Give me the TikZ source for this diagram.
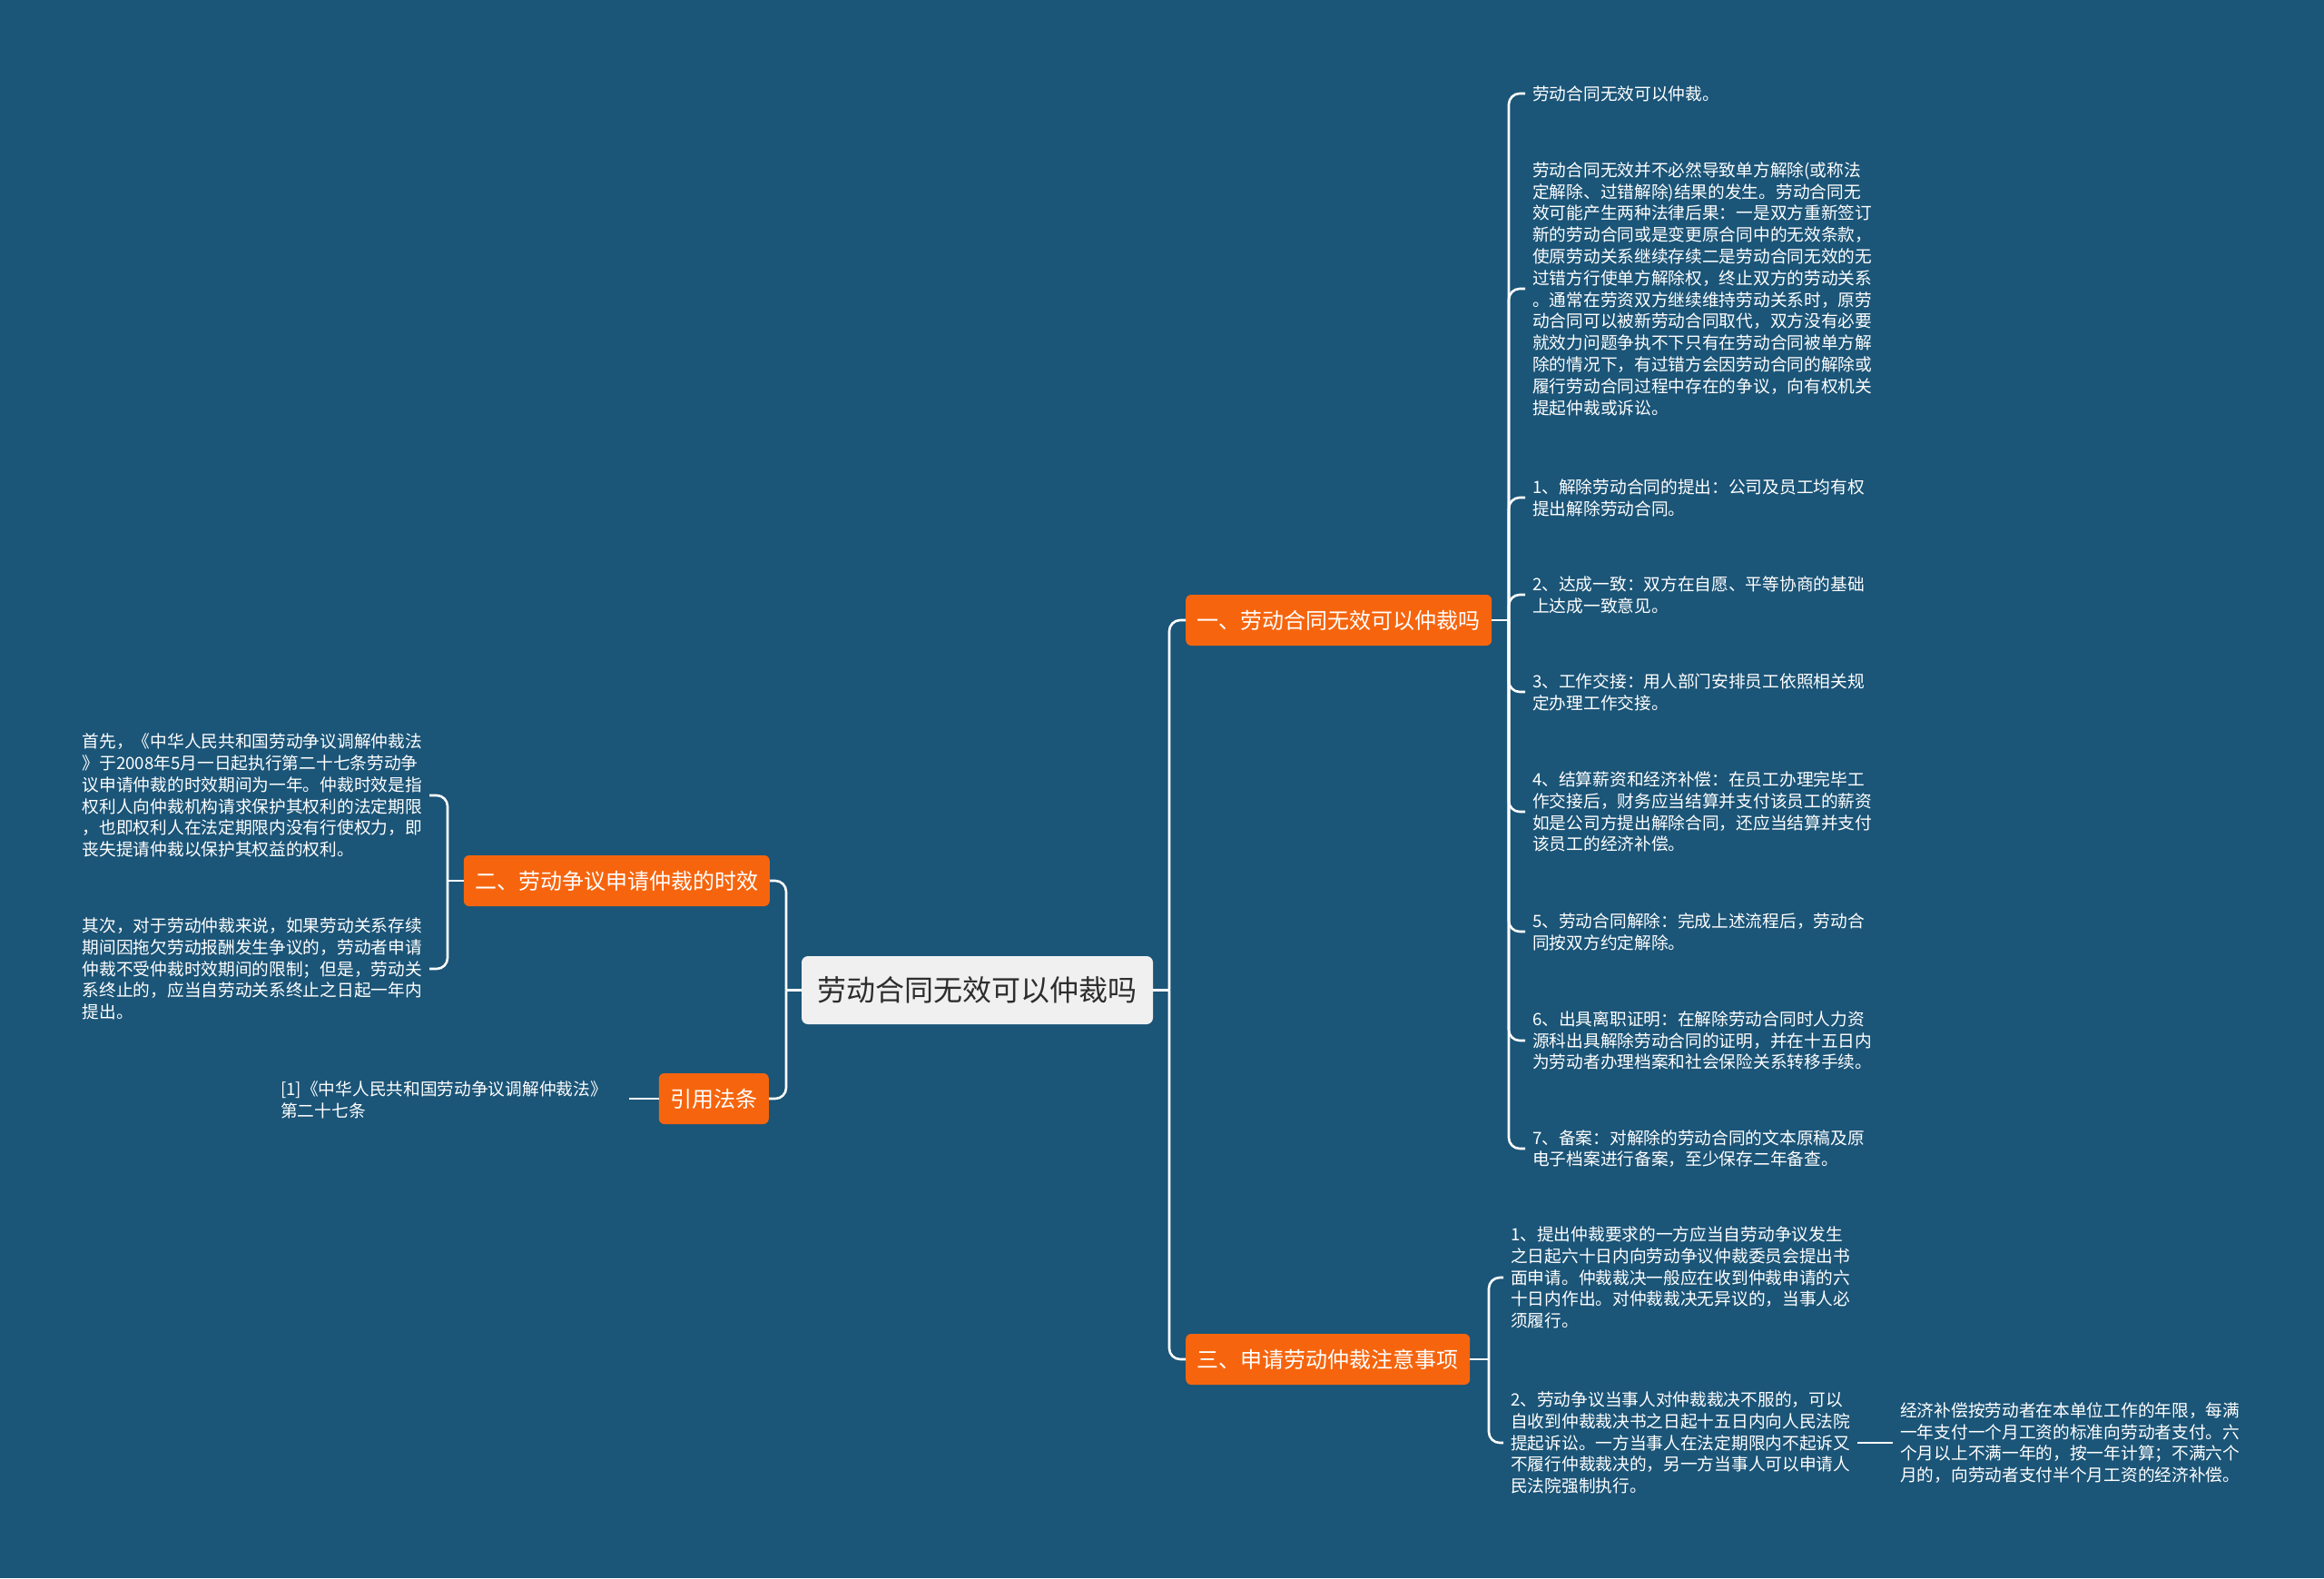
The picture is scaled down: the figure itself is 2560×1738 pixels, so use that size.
\documentclass[tikz,border=0pt]{standalone}
\usepackage{fontspec}
\setmainfont{Noto Sans CJK SC}
\definecolor{bgblue}{RGB}{27,85,120}
\definecolor{orangebox}{RGB}{246,101,14}
\definecolor{rootgray}{RGB}{240,240,240}
\definecolor{roottext}{RGB}{45,45,45}
\begin{document}
\begin{tikzpicture}[x=1pt,y=-1pt,
  edge/.style={draw=white,line width=2.6pt},
  redge/.style={edge,rounded corners=12pt},
  rootbox/.style={fill=rootgray,text=roottext,rounded corners=7pt,minimum width=387pt,minimum height=75pt,inner sep=0pt,font=\fontsize{32}{36}\selectfont},
  branchbox/.style={fill=orangebox,text=white,rounded corners=6pt,minimum height=56pt,inner xsep=12.5pt,inner ysep=0pt,font=\fontsize{24}{28}\selectfont},
  leafr/.style={text=white,align=left,inner xsep=8pt,inner ysep=2pt,anchor=west,font=\fontsize{18.7}{23.8}\selectfont},
  leafl/.style={leafr,anchor=east}]
\useasboundingbox (0,0) rectangle (2560,1738);
\fill[bgblue] (0,0) rectangle (2560,1738);

% junction lines
\coordinate (vR) at (1288,0);
\coordinate (vL) at (866,0);
\coordinate (v1) at (1662,0);
\coordinate (v3) at (1640,0);
\coordinate (v2) at (493,0);

% root
\node[rootbox] (root) at (1076.5,1090.5) {劳动合同无效可以仲裁吗};

% branches
\node[branchbox,anchor=west] (b1) at (1306,683) {一、劳动合同无效可以仲裁吗};
\node[branchbox,anchor=west] (b3) at (1306,1497) {三、申请劳动仲裁注意事项};
\node[branchbox,anchor=east] (b2) at (848,970) {二、劳动争议申请仲裁的时效};
\node[branchbox,anchor=east] (b4) at (847,1210) {引用法条};

% branch 1 leaves
\node[leafr] (L1a) at (1680,103) {劳动合同无效可以仲裁。};
\node[leafr] (L1b) at (1680,318) {劳动合同无效并不必然导致单方解除(或称法\\定解除、过错解除)结果的发生。劳动合同无\\效可能产生两种法律后果：一是双方重新签订\\新的劳动合同或是变更原合同中的无效条款，\\使原劳动关系继续存续二是劳动合同无效的无\\过错方行使单方解除权，终止双方的劳动关系\\。通常在劳资双方继续维持劳动关系时，原劳\\动合同可以被新劳动合同取代，双方没有必要\\就效力问题争执不下只有在劳动合同被单方解\\除的情况下，有过错方会因劳动合同的解除或\\履行劳动合同过程中存在的争议，向有权机关\\提起仲裁或诉讼。};
\node[leafr] (L1c) at (1680,548) {1、解除劳动合同的提出：公司及员工均有权\\提出解除劳动合同。};
\node[leafr] (L1d) at (1680,655) {2、达成一致：双方在自愿、平等协商的基础\\上达成一致意见。};
\node[leafr] (L1e) at (1680,762) {3、工作交接：用人部门安排员工依照相关规\\定办理工作交接。};
\node[leafr] (L1f) at (1680,894) {4、结算薪资和经济补偿：在员工办理完毕工\\作交接后，财务应当结算并支付该员工的薪资\\如是公司方提出解除合同，还应当结算并支付\\该员工的经济补偿。};
\node[leafr] (L1g) at (1680,1026) {5、劳动合同解除：完成上述流程后，劳动合\\同按双方约定解除。};
\node[leafr] (L1h) at (1680,1146) {6、出具离职证明：在解除劳动合同时人力资\\源科出具解除劳动合同的证明，并在十五日内\\为劳动者办理档案和社会保险关系转移手续。};
\node[leafr] (L1i) at (1680,1265) {7、备案：对解除的劳动合同的文本原稿及原\\电子档案进行备案，至少保存二年备查。};

% branch 3 leaves
\node[leafr] (L3a) at (1656,1407) {1、提出仲裁要求的一方应当自劳动争议发生\\之日起六十日内向劳动争议仲裁委员会提出书\\面申请。仲裁裁决一般应在收到仲裁申请的六\\十日内作出。对仲裁裁决无异议的，当事人必\\须履行。};
\node[leafr] (L3b) at (1656,1589) {2、劳动争议当事人对仲裁裁决不服的，可以\\自收到仲裁裁决书之日起十五日内向人民法院\\提起诉讼。一方当事人在法定期限内不起诉又\\不履行仲裁裁决的，另一方当事人可以申请人\\民法院强制执行。};
\node[leafr] (L3c) at (2085,1589) {经济补偿按劳动者在本单位工作的年限，每满\\一年支付一个月工资的标准向劳动者支付。六\\个月以上不满一年的，按一年计算；不满六个\\月的，向劳动者支付半个月工资的经济补偿。};

% branch 2 leaves
\node[leafl] (L2a) at (473,876) {首先，《中华人民共和国劳动争议调解仲裁法\\》于2008年5月一日起执行第二十七条劳动争\\议申请仲裁的时效期间为一年。仲裁时效是指\\权利人向仲裁机构请求保护其权利的法定期限\\，也即权利人在法定期限内没有行使权力，即\\丧失提请仲裁以保护其权益的权利。};
\node[leafl] (L2b) at (473,1067) {其次，对于劳动仲裁来说，如果劳动关系存续\\期间因拖欠劳动报酬发生争议的，劳动者申请\\仲裁不受仲裁时效期间的限制；但是，劳动关\\系终止的，应当自劳动关系终止之日起一年内\\提出。};

% citation leaf
\node[leafr,text width=376pt] (L4a) at (301,1211) {[1]《中华人民共和国劳动争议调解仲裁法》\\第二十七条};

% edges: root
\draw[edge] (root.east) -- (root.east -| vR);
\draw[redge] (root.east -| vR) |- (b1.west);
\draw[redge] (root.east -| vR) |- (b3.west);
\draw[edge] (root.west) -- (root.west -| vL);
\draw[redge] (root.west -| vL) |- (b2.east);
\draw[redge] (root.west -| vL) |- (b4.east);

% edges: branch 1
\draw[edge] (b1.east) -- (b1.east -| v1);
\foreach \n in {L1a,L1b,L1c,L1d,L1e,L1f,L1g,L1h,L1i}
  \draw[redge] (b1.east -| v1) |- (\n.west);

% edges: branch 3
\draw[edge] (b3.east) -- (b3.east -| v3);
\foreach \n in {L3a,L3b}
  \draw[redge] (b3.east -| v3) |- (\n.west);
\draw[edge] (L3b.east) -- (L3c.west);

% edges: branch 2
\draw[edge] (b2.west) -- (b2.west -| v2);
\foreach \n in {L2a,L2b}
  \draw[redge] (b2.west -| v2) |- (\n.east);

% edges: citation
\draw[edge] (b4.west) -- (b4.west -| L4a.east);
\end{tikzpicture}
\end{document}
